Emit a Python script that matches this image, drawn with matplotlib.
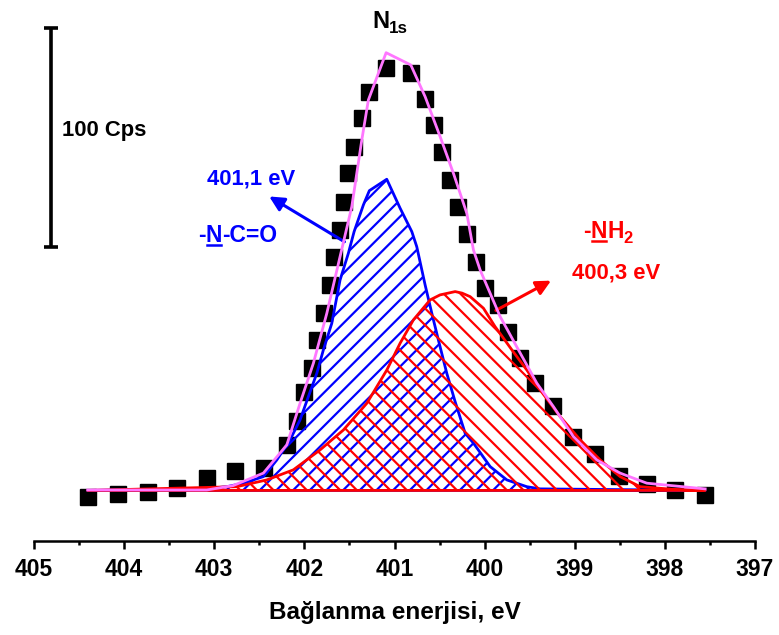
import matplotlib
matplotlib.use("Agg")
import matplotlib.pyplot as plt
from matplotlib.transforms import IdentityTransform
from matplotlib.ticker import MultipleLocator

plt.rcParams['font.family'] = ['Liberation Sans', 'DejaVu Sans']
plt.rcParams['hatch.linewidth'] = 1.6

# Measured spectrum (binding energy eV, intensity Cps)
data_x = [404.404, 404.064, 403.738, 403.410, 403.083, 402.769, 402.444, 402.195,
          402.084, 402.003, 401.918, 401.856, 401.778, 401.715, 401.667, 401.604,
          401.556, 401.512, 401.448, 401.363, 401.279, 401.093, 400.819, 400.660,
          400.560, 400.468, 400.383, 400.291, 400.191, 400.094, 399.994, 399.854,
          399.736, 399.606, 399.440, 399.243, 399.015, 398.770, 398.504, 398.200,
          397.886, 397.553]
data_y = [-2.8, -1.7, -0.8, 1.1, 5.7, 8.9, 10.4, 20.8,
          31.5, 45.1, 55.8, 68.7, 81.2, 93.8, 106.5, 118.9,
          131.9, 144.8, 157.0, 170.0, 182.1, 192.8, 190.5, 178.6,
          166.9, 154.7, 141.8, 129.6, 117.0, 104.5, 92.3, 84.7,
          72.5, 60.4, 49.2, 38.6, 24.3, 16.7, 6.8, 2.8,
          0.2, -2.1]

# Envelope fit
fit_x = [404.404, 403.083, 402.791, 402.455, 402.195, 402.048, 401.900, 401.751,
         401.604, 401.474, 401.363, 401.290, 401.093, 400.819, 400.660, 400.494,
         400.346, 400.198, 400.124, 400.050, 399.828, 399.625, 399.421, 399.237,
         399.015, 398.755, 398.496, 398.200, 397.553]
fit_y = [0.2, 0.2, 2.2, 7.9, 20.8, 39.8, 58.1, 80.9,
         106.8, 129.6, 160.0, 178.3, 199.9, 194.3, 179.8, 161.6,
         144.8, 126.6, 109.8, 100.7, 79.4, 64.2, 49.0, 38.3,
         24.6, 13.9, 7.9, 3.3, 0.7]

# Component 1: -N-C=O (401,1 eV)
c1_x = [404.404, 403.124, 402.861, 402.677, 402.455, 402.306, 402.159, 402.048,
        401.956, 401.862, 401.789, 401.696, 401.604, 401.512, 401.448, 401.345,
        401.279, 401.086, 400.938, 400.808, 400.753, 400.660, 400.586, 400.513,
        400.420, 400.327, 400.216, 400.124, 399.939, 399.754, 399.532, 399.384,
        397.553]
c1_y = [0.0, 0.7, 1.7, 3.3, 6.3, 13.9, 23.1, 32.2,
        42.8, 53.5, 64.2, 76.3, 96.1, 108.3, 118.2, 130.4,
        136.9, 142.1, 128.9, 118.2, 111.3, 93.8, 80.9, 68.7,
        53.5, 40.5, 26.1, 21.6, 10.9, 4.8, 1.7, 0.7,
        0.0]

# Component 2: -NH2 (400,3 eV)
c2_x = [404.404, 402.750, 402.417, 402.122, 401.826, 401.567, 401.307, 401.085,
        400.938, 400.790, 400.605, 400.494, 400.327, 400.250, 400.161, 400.013,
        399.884, 399.698, 399.532, 399.384, 399.162, 398.940, 398.718, 398.496,
        398.274, 397.908, 397.553]
c2_y = [0.0, 1.7, 4.8, 9.4, 18.5, 27.6, 39.8, 55.0,
        67.2, 77.9, 87.0, 89.3, 90.8, 90.1, 88.5, 83.2,
        74.8, 64.2, 55.0, 45.9, 33.7, 23.1, 13.9, 6.3,
        1.7, 0.5, 0.0]

x_ticks = [405, 404, 403, 402, 401, 400, 399, 398, 397]
scale_cps = 100

BLUE = '#0000FF'
RED = '#FF0000'
PINK = '#FF77FF'

fig = plt.figure(figsize=(7.79, 6.35), dpi=100)
ax = fig.add_axes([34/779, (635-541)/635, (755-34)/779, (541-10)/635])

ax.plot(data_x, data_y, linestyle='none', marker='s', markersize=11,
        color='black', zorder=2)

ax.fill_between(c1_x, c1_y, 0, facecolor='none', edgecolor=BLUE, hatch='//',
                linewidth=2.0, zorder=3)
ax.fill_between(c2_x, c2_y, 0, facecolor='none', edgecolor=RED, hatch='\\\\',
                linewidth=2.0, zorder=4)
ax.plot(fit_x, fit_y, color=PINK, linewidth=2.0, zorder=5)

ax.set_xlim(405, 397)
ax.set_ylim(-23.1, 219.4)
ax.set_xticks(x_ticks)
ax.set_xticklabels([str(t) for t in x_ticks], fontsize=16.5, fontweight='bold')
ax.xaxis.set_minor_locator(MultipleLocator(0.5))
ax.tick_params(axis='x', which='major', length=6, width=1.8, direction='out', pad=6)
ax.tick_params(axis='x', which='minor', length=3, width=1.8, direction='out')
ax.set_yticks([])
for s in ['top', 'right', 'left']:
    ax.spines[s].set_visible(False)
ax.spines['bottom'].set_linewidth(1.8)
ax.set_xlabel('Bağlanma enerjisi, eV', fontsize=17.5, fontweight='bold', labelpad=15)

# scale bar
ax.errorbar([404.811], [111.2 + scale_cps/2], yerr=[scale_cps/2], color='black',
            linewidth=2.6, capsize=5, capthick=2.6)
ax.text(404.689, 161.9, f'{scale_cps} Cps', fontsize=15.8, fontweight='bold',
        va='baseline', ha='left')

# arrows
ax.annotate('', xy=(402.417, 134.9), xytext=(401.529, 112.9),
            arrowprops=dict(arrowstyle='-|>', color=BLUE, lw=2.2, mutation_scale=22))
ax.annotate('', xy=(399.236, 96.4), xytext=(399.902, 81.6),
            arrowprops=dict(arrowstyle='-|>', color=RED, lw=2.2, mutation_scale=22))

fig.canvas.draw()
renderer = fig.canvas.get_renderer()


def rich(x, y, pieces, color, size):
    px, py = ax.transData.transform((x, y))
    cx = px
    for s, ul, sub in pieces:
        fs = size * 0.72 if sub else size
        dy = -size * 0.22 * 100 / 72 if sub else 0
        t = fig.text(cx, py + dy, s, transform=IdentityTransform(), fontsize=fs,
                     color=color, fontweight='bold', va='baseline', ha='left')
        bb = t.get_window_extent(renderer)
        if ul:
            fig.add_artist(plt.Line2D([bb.x0 + 1, bb.x1 - 1], [py - 3, py - 3],
                                      transform=IdentityTransform(), color=color,
                                      linewidth=1.8))
        cx = bb.x1


rich(401.249, 211.2, [('N', False, False), ('1s', False, True)], 'black', 17)
rich(403.080, 139.5, [('401,1 eV', False, False)], BLUE, 15.8)
rich(403.180, 113.5, [('-', False, False), ('N', True, False), ('-C=O', False, False)], BLUE, 16.5)
rich(398.907, 115.3, [('-', False, False), ('N', True, False), ('H', False, False), ('2', False, True)], RED, 16.5)
rich(399.029, 96.6, [('400,3 eV', False, False)], RED, 15.8)

fig.savefig('out.png', dpi=100)
